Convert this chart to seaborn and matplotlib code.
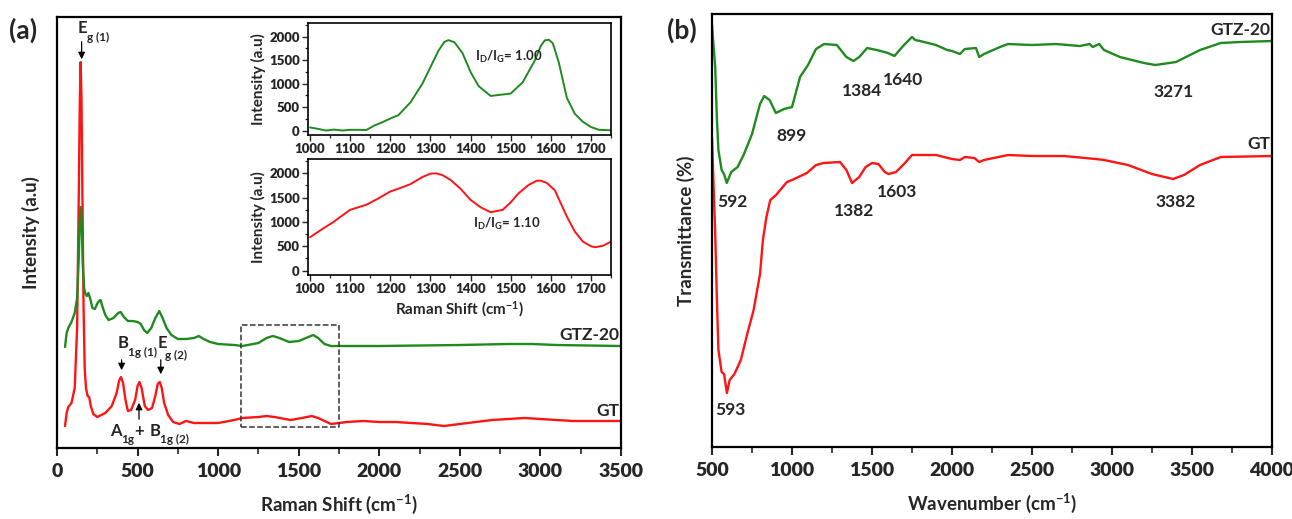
import numpy as np
import matplotlib
matplotlib.use("Agg")
import matplotlib.pyplot as plt
import pandas as pd
import seaborn as sns
from matplotlib.ticker import MultipleLocator

# ---- Raman (a), arbitrary offset units ----
gt_raman_x = [50, 60, 70, 90, 110, 125, 135, 142, 147, 152, 158, 165, 172, 180, 190, 200, 210, 225, 250,
              300, 340, 370, 385, 397, 410, 425, 440, 460, 485, 500, 512, 525, 545, 565, 590, 610, 625,
              638, 650, 665, 690, 720, 760, 800, 850, 900, 1000, 1100, 1150, 1250, 1300, 1350, 1450,
              1520, 1580, 1620, 1700, 1800, 1900, 2000, 2100, 2200, 2300, 2400, 2500, 2600, 2700, 2800,
              2900, 3000, 3100, 3200, 3300, 3400, 3500]
gt_raman_y = [22, 35, 41, 45, 60, 120, 250, 350, 386, 350, 250, 140, 80, 60, 52, 51, 42, 34, 31,
              35, 42, 55, 67, 71, 65, 48, 37, 38, 48, 62, 66, 60, 42, 38, 40, 52, 64,
              66, 60, 45, 33, 26, 24, 27, 25, 25, 25, 28, 30, 31, 32, 31, 28,
              30, 32, 30, 24, 26, 27, 26, 26, 25, 24, 22, 24, 26, 28, 29,
              30, 29, 28, 27, 27, 27, 27]

gtz_raman_x = [50, 60, 70, 90, 110, 125, 135, 142, 148, 153, 160, 168, 175, 185, 195, 205, 220, 235, 255,
               270, 285, 300, 320, 350, 380, 395, 415, 440, 470, 500, 520, 540, 560, 585, 610, 635, 655,
               680, 710, 750, 800, 850, 880, 910, 950, 1000, 1100, 1150, 1250, 1300, 1340, 1380, 1440,
               1500, 1560, 1590, 1620, 1660, 1700, 1800, 2000, 2500, 2800, 2950, 3100, 3500]
gtz_raman_y = [101, 115, 120, 126, 135, 150, 190, 230, 241, 225, 185, 160, 155, 152, 155, 150, 140, 139, 146,
               148, 140, 133, 128, 130, 135, 136, 131, 127, 127, 126, 124, 118, 115, 120, 130, 137, 130,
               120, 113, 109, 109, 110, 112, 109, 106, 104, 103, 102, 105, 110, 112, 110, 106,
               107, 111, 113, 110, 104, 102, 102, 102, 103, 104, 104, 103, 102]

# ---- insets (D and G bands) ----
gtz_inset_x = [1000, 1020, 1040, 1060, 1080, 1100, 1120, 1140, 1160, 1180, 1200, 1220, 1250, 1280, 1300,
               1320, 1335, 1345, 1360, 1380, 1400, 1420, 1450, 1480, 1500, 1530, 1560, 1575, 1585, 1595,
               1605, 1620, 1640, 1660, 1680, 1700, 1720, 1750]
gtz_inset_y = [70, 40, 5, 25, 5, 20, 20, 15, 110, 180, 260, 330, 600, 1000, 1350,
               1700, 1890, 1925, 1880, 1650, 1250, 950, 740, 770, 790, 1030, 1490, 1800, 1920, 1935,
               1860, 1450, 700, 360, 190, 80, 20, 10]

gt_inset_x = [1000, 1030, 1060, 1080, 1100, 1120, 1140, 1170, 1200, 1230, 1250, 1280, 1300, 1315, 1330,
              1350, 1375, 1400, 1425, 1450, 1480, 1500, 1520, 1545, 1565, 1575, 1590, 1610, 1640, 1660,
              1680, 1700, 1710, 1730, 1750]
gt_inset_y = [685, 850, 1007, 1130, 1247, 1300, 1350, 1480, 1623, 1710, 1774, 1920, 1990, 1995, 1960,
              1863, 1680, 1452, 1300, 1199, 1247, 1400, 1589, 1760, 1845, 1845, 1800, 1650, 1110, 800,
              596, 500, 480, 510, 596]

# ---- FTIR (b), offset transmittance ----
gtz_ftir_x = [500, 510, 520, 530, 540, 560, 575, 592, 620, 660, 700, 750, 800, 826, 860, 899, 950, 1000,
              1050, 1100, 1150, 1200, 1280, 1340, 1384, 1420, 1470, 1530, 1600, 1640, 1700, 1750, 1770,
              1800, 1900, 1970, 2000, 2050, 2080, 2150, 2170, 2200, 2300, 2350, 2500, 2650, 2800, 2860,
              2880, 2920, 2950, 3050, 3200, 3271, 3400, 3550, 3680, 3800, 4000]
gtz_ftir_y = [422, 400, 380, 330, 297, 277, 273, 264, 275, 280, 293, 313, 343, 351, 347, 334, 338, 340,
              370, 382, 398, 403, 402, 390, 386, 390, 399, 397, 394, 391, 402, 410, 407,
              406, 402, 397, 396, 393, 398, 399, 390, 393, 400, 403, 402, 403, 401, 403,
              400, 403, 397, 390, 384, 382, 385, 397, 404, 405, 406]

gt_ftir_x = [500, 510, 520, 530, 540, 560, 575, 593, 610, 640, 680, 720, 760, 800, 818, 840, 864, 900,
             968, 1000, 1093, 1150, 1197, 1300, 1340, 1375, 1420, 1460, 1500, 1540, 1580, 1603, 1650,
             1700, 1750, 1900, 2000, 2050, 2080, 2140, 2170, 2200, 2350, 2500, 2700, 2900, 2950, 3100,
             3250, 3382, 3450, 3550, 3680, 4000]
gt_ftir_y = [309, 260, 213, 150, 97, 75, 73, 54, 67, 73, 87, 113, 137, 173, 207, 230, 247, 252,
             265, 267, 274, 282, 284, 285, 277, 264, 270, 280, 284, 283, 275, 273, 275,
             283, 292, 292, 288, 287, 290, 289, 285, 287, 292, 291, 291, 288, 287, 282,
             273, 268, 272, 282, 290, 291]

raman = pd.concat([pd.DataFrame({"x": gt_raman_x, "y": gt_raman_y, "s": "GT"}),
                   pd.DataFrame({"x": gtz_raman_x, "y": gtz_raman_y, "s": "GTZ-20"})])
ftir = pd.concat([pd.DataFrame({"x": gt_ftir_x, "y": gt_ftir_y, "s": "GT"}),
                  pd.DataFrame({"x": gtz_ftir_x, "y": gtz_ftir_y, "s": "GTZ-20"})])
ins1 = pd.DataFrame({"x": gtz_inset_x, "y": gtz_inset_y})
ins2 = pd.DataFrame({"x": gt_inset_x, "y": gt_inset_y})

pal = {"GT": "#ff1414", "GTZ-20": "#1f8a1f"}

sns.set_theme(style="ticks")
plt.rcParams["font.family"] = ["Lato", "DejaVu Sans"]
plt.rcParams["font.weight"] = "bold"
plt.rcParams["mathtext.fontset"] = "custom"
plt.rcParams["mathtext.rm"] = "Lato:bold"
plt.rcParams["mathtext.bf"] = "Lato:bold"
plt.rcParams["mathtext.it"] = "Lato:bold"
plt.rcParams["axes.linewidth"] = 1.6

fig = plt.figure(figsize=(12.92, 5.19), dpi=100)
axa = fig.add_axes([0.0441, 0.1368, 0.4366, 0.8304])
axb = fig.add_axes([0.5511, 0.1387, 0.4334, 0.8343])

sns.lineplot(data=raman, x="x", y="y", hue="s", palette=pal, lw=1.7, legend=False, ax=axa,
             sort=False, estimator=None)
sns.lineplot(data=ftir, x="x", y="y", hue="s", palette=pal, lw=1.7, legend=False, ax=axb,
             sort=False, estimator=None)

for ax, xl, lo, hi in [(axa, r"Raman Shift (cm$^{-1}$)", 0, 3500),
                       (axb, r"Wavenumber (cm$^{-1}$)", 500, 4000)]:
    ax.set_xlim(lo, hi)
    ax.set_yticks([])
    ax.xaxis.set_major_locator(MultipleLocator(500))
    ax.xaxis.set_minor_locator(MultipleLocator(250))
    ax.tick_params(axis="x", which="major", length=6, width=1.5, labelsize=14, pad=5)
    ax.tick_params(axis="x", which="minor", length=4, width=1.2)
    ax.set_xlabel(xl, fontsize=13.5, fontweight="bold", labelpad=9)
    for sp in ax.spines.values():
        sp.set_visible(True)
        sp.set_linewidth(1.6)
        sp.set_color("black")

axa.set_ylim(0, 431)
axb.set_ylim(0, 433)
axa.set_ylabel("Intensity (a.u)", fontsize=13.5, fontweight="bold", labelpad=12)
axb.set_ylabel("Transmittance (%)", fontsize=13.5, fontweight="bold", labelpad=12)

fig.text(0.007, 0.925, "(a)", fontsize=19, fontweight="bold")
fig.text(0.516, 0.925, "(b)", fontsize=19, fontweight="bold")

# dashed box around the D/G region
axa.plot([1140, 1750, 1750, 1140, 1140], [21, 21, 123, 123, 21], ls="--", color="#333333", lw=1.1)

# band labels: letter + small lowered subscript
big, small = 12, 8.5
arr = dict(arrowstyle="-|>", color="black", lw=0.9, mutation_scale=10)
axa.text(130, 415, "E", fontsize=big, fontweight="bold", va="baseline")
axa.text(186, 407, "g (1)", fontsize=small, fontweight="bold", va="baseline")
axa.annotate("", xy=(153, 386), xytext=(153, 409), arrowprops=arr)
axa.text(379, 100, "B", fontsize=big, fontweight="bold", va="baseline")
axa.text(441, 92, "1g (1)", fontsize=small, fontweight="bold", va="baseline")
axa.annotate("", xy=(401, 75), xytext=(401, 91), arrowprops=arr)
axa.text(627, 100, "E", fontsize=big, fontweight="bold", va="baseline")
axa.text(672, 89, "g (2)", fontsize=small, fontweight="bold", va="baseline")
axa.annotate("", xy=(644, 71), xytext=(644, 91), arrowprops=arr)
axa.text(329, 12, "A", fontsize=big, fontweight="bold", va="baseline")
axa.text(397, 5, "1g", fontsize=small, fontweight="bold", va="baseline")
axa.text(478, 12, "+", fontsize=big, fontweight="bold", va="baseline")
axa.text(577, 12, "B", fontsize=big, fontweight="bold", va="baseline")
axa.text(639, 5, "1g (2)", fontsize=small, fontweight="bold", va="baseline")
axa.annotate("", xy=(509, 48), xytext=(509, 26), arrowprops=arr)
axa.text(3490, 108, "GTZ-20", fontsize=12.5, fontweight="bold", ha="right")
axa.text(3490, 32, "GT", fontsize=12.5, fontweight="bold", ha="right")

for lab, x, y in [("592", 630, 240), ("593", 617, 32), ("899", 996, 306), ("1384", 1435, 351),
                  ("1640", 1695, 362), ("3271", 3382, 350), ("1382", 1386, 231), ("1603", 1659, 250),
                  ("3382", 3397, 240)]:
    axb.text(x, y, lab, fontsize=12.5, fontweight="bold", ha="center")
axb.text(3990, 412, "GTZ-20", fontsize=12.5, fontweight="bold", ha="right")
axb.text(3990, 298, "GT", fontsize=12.5, fontweight="bold", ha="right")

# insets
in1 = fig.add_axes([0.2384, 0.7399, 0.2345, 0.2158])
in2 = fig.add_axes([0.2384, 0.4701, 0.2345, 0.2235])
sns.lineplot(data=ins1, x="x", y="y", color=pal["GTZ-20"], lw=1.4, ax=in1, sort=False, estimator=None)
sns.lineplot(data=ins2, x="x", y="y", color=pal["GT"], lw=1.4, ax=in2, sort=False, estimator=None)
for ax in (in1, in2):
    ax.set_xlim(995, 1750)
    ax.set_ylim(-90, 2290)
    ax.xaxis.set_major_locator(MultipleLocator(100))
    ax.xaxis.set_minor_locator(MultipleLocator(50))
    ax.yaxis.set_major_locator(MultipleLocator(500))
    ax.yaxis.set_minor_locator(MultipleLocator(250))
    ax.tick_params(which="major", length=4, width=1, labelsize=9.5, pad=2)
    ax.tick_params(which="minor", length=2.5, width=0.9)
    ax.set_ylabel("Intensity (a.u)", fontsize=11, fontweight="bold", labelpad=2)
    ax.set_xlabel("")
    for sp in ax.spines.values():
        sp.set_visible(True)
        sp.set_linewidth(1.2)
        sp.set_color("black")
in2.set_xlabel(r"Raman Shift (cm$^{-1}$)", fontsize=11, fontweight="bold", labelpad=3)
in1.text(1410, 1480, r"I$_{\rm D}$/I$_{\rm G}$= 1.00", fontsize=9.5, fontweight="bold")
in2.text(1405, 870, r"I$_{\rm D}$/I$_{\rm G}$= 1.10", fontsize=9.5, fontweight="bold")

for ax in (axa, axb, in1, in2):
    plt.setp(ax.get_xticklabels() + ax.get_yticklabels(), fontweight="heavy")

fig.savefig("out.png", dpi=100)
